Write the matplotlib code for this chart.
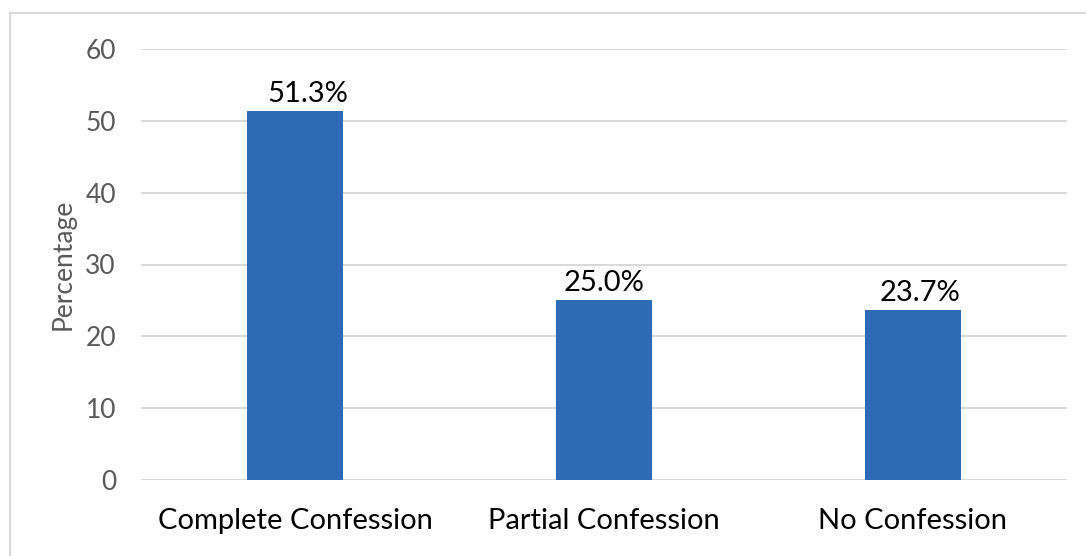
import matplotlib
matplotlib.use("Agg")
import matplotlib.pyplot as plt
from matplotlib.lines import Line2D

categories = ["Complete Confession", "Partial Confession", "No Confession"]
values = [51.3, 25.0, 23.7]
labels = ["51.3%", "25.0%", "23.7%"]
yticks = [0, 10, 20, 30, 40, 50, 60]

plt.rcParams['font.family'] = ['Lato', 'DejaVu Sans']

W, H = 1086, 556
fig = plt.figure(figsize=(W / 100, H / 100), dpi=100)
ax = fig.add_axes([141 / W, (H - 480) / H, (1067 - 141) / W, (480 - 49) / H])

x = list(range(len(categories)))
bars = ax.bar(x, values, width=0.31, color="#2F6AB5", zorder=3)
label_dx = [9, 0, 5]  # slight horizontal nudges of data labels (points)
for b, lab, dx in zip(bars, labels, label_dx):
    ax.annotate(lab, (b.get_x() + b.get_width() / 2, b.get_height()),
                xytext=(dx, 3), textcoords="offset points",
                ha="center", va="bottom", fontsize=21, color="black")

ax.set_xlim(-0.5, 2.5)
ax.set_ylim(0, 60)
ax.set_yticks(yticks)
ax.set_xticks(x)
ax.set_xticklabels(categories, fontsize=21, color="black")
ax.tick_params(axis="y", labelsize=19, labelcolor="#595959", length=0, pad=18)
ax.tick_params(axis="x", length=0, pad=20)
ax.grid(axis="y", color="#D9D9D9", linewidth=1.5, zorder=0)
for s in ax.spines.values():
    s.set_visible(False)
ax.set_ylabel("Percentage", fontsize=19, color="#595959", labelpad=7)

fig.add_artist(Line2D([9.5 / W, 1], [1 - 12.5 / H, 1 - 12.5 / H], color="#D9D9D9", lw=1.5, transform=fig.transFigure))
fig.add_artist(Line2D([9.5 / W, 9.5 / W], [0, 1 - 12.5 / H], color="#D9D9D9", lw=1.5, transform=fig.transFigure))

fig.savefig("out.png", dpi=100)
